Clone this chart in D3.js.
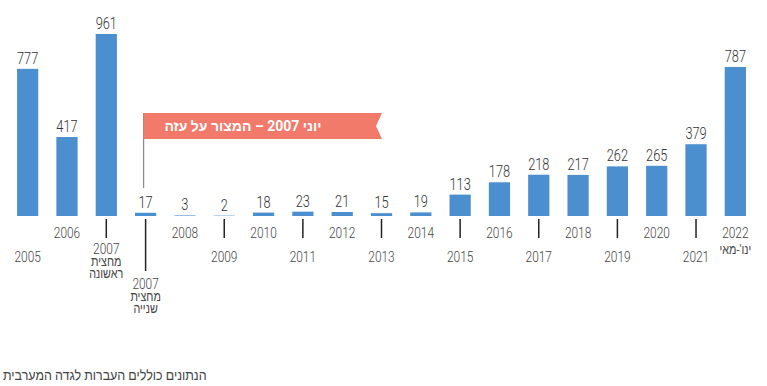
<!DOCTYPE html>
<html>
<head>
<meta charset="utf-8">
<script src="https://cdn.jsdelivr.net/npm/d3@7"></script>
<style>
  body { margin: 0; background: #fff; }
  svg { display: block; font-family: Roboto, "Liberation Sans", sans-serif; }
</style>
</head>
<body>
<svg></svg>
<script>
var width = 767;
var height = 386;

// bar values, 2005 .. 2022 (2007 split in two halves)
var values = [777, 417, 961, 17, 3, 2, 18, 23, 21, 15, 19, 113, 178, 218, 217, 262, 265, 379, 787];
// category labels, one entry per bar, each line separately
var labels = [
  ["2005"], ["2006"], ["2007", "מחצית", "ראשונה"], ["2007", "מחצית", "שנייה"],
  ["2008"], ["2009"], ["2010"], ["2011"], ["2012"], ["2013"], ["2014"],
  ["2015"], ["2016"], ["2017"], ["2018"], ["2019"], ["2020"], ["2021"],
  ["2022", "ינו'-מאי"]
];
// label row: 0 = upper, 1 = lower, 2 = below the long tick (second half of 2007)
var labelRow = [1, 0, 1, 2, 0, 1, 0, 1, 0, 1, 0, 1, 0, 1, 0, 1, 0, 1, 0];
var hasTick = [false, false, true, true, false, true, false, true, false, true, false, true, false, true, false, true, false, true, false];
var annotation = "יוני 2007 – המצור על עזה";
var footnote = "הנתונים כוללים העברות לגדה המערבית";

var baseY = 216;
var svg = d3.select("svg")
    .attr("width", width)
    .attr("height", height);

var xScale = d3.scaleBand()
    .domain(d3.range(values.length))
    .range([8, 755])
    .paddingInner(0.46)
    .paddingOuter(0.23);

var yScale = d3.scaleLinear()
    .domain([0, 961])
    .range([baseY, 34]);

var cx = i => xScale(i) + xScale.bandwidth() / 2;

// narrow text: the reference uses a condensed face
function narrow(sel, x, y, sx) {
    return sel.attr("transform", "translate(" + x + "," + y + ") scale(" + sx + ",1)");
}

//annotation flag for June 2007
var flagX = cx(3) - 2;
svg.append("line")
    .attr("x1", flagX).attr("x2", flagX)
    .attr("y1", 113).attr("y2", 188)
    .attr("stroke", "#8a8a8a")
    .attr("stroke-width", 1.2);
svg.append("path")
    .attr("d", "M" + flagX + ",113 L382,113 L376,126 L382,139 L" + flagX + ",139 Z")
    .attr("fill", "#f27a6b");
svg.append("text")
    .attr("x", 243)
    .attr("y", 131)
    .attr("text-anchor", "middle")
    .attr("direction", "rtl")
    .attr("fill", "#fff")
    .style("font-weight", "bold")
    .style("font-size", "14px")
    .text(annotation);

//bars
var bars = svg.selectAll(".bar")
    .data(values)
    .enter()
    .append("g")
    .classed("bar", true);

bars.append("rect")
    .attr("x", (d, i) => xScale(i))
    .attr("y", d => yScale(d))
    .attr("width", xScale.bandwidth())
    .attr("height", d => baseY - yScale(d))
    .attr("fill", "#4b8fcf");

bars.append("text")
    .text(d => d)
    .each(function(d, i) { narrow(d3.select(this), cx(i), yScale(d) - 5, 0.8); })
    .attr("text-anchor", "middle")
    .attr("fill", "#333")
    .style("font-weight", 300)
    .style("font-size", "16px");

//ticks under bars
svg.selectAll(".tick")
    .data(d3.range(values.length).filter(i => hasTick[i]))
    .enter()
    .append("line")
    .attr("x1", i => cx(i))
    .attr("x2", i => cx(i))
    .attr("y1", 219)
    .attr("y2", i => labelRow[i] === 2 ? 271 : 238)
    .attr("stroke", "#222")
    .attr("stroke-width", 1.5);

//category labels, one text per line
var rowY = [238, 262, 289];
var lines = [];
labels.forEach(function(ls, i) {
    var y0 = i === 2 ? 254 : rowY[labelRow[i]];
    ls.forEach(function(l, j) {
        var step = i === 18 ? 16 : 12;
        lines.push({ text: l, x: cx(i), y: y0 + j * step, heb: j > 0 });
    });
});

svg.selectAll(".cat")
    .data(lines)
    .enter()
    .append("text")
    .classed("cat", true)
    .text(d => d.text)
    .each(function(d) { narrow(d3.select(this), d.x, d.y, d.heb ? 0.8 : 0.85); })
    .attr("text-anchor", "middle")
    .attr("direction", d => d.heb ? "rtl" : "ltr")
    .attr("fill", "#444")
    .style("font-weight", d => d.heb ? 400 : 300)
    .style("font-size", d => d.heb ? "13.5px" : "14px");

narrow(svg.append("text"), 3, 380, 0.89)
    .attr("fill", "#444")
    .style("font-size", "14px")
    .text(footnote);
</script>
</body>
</html>
